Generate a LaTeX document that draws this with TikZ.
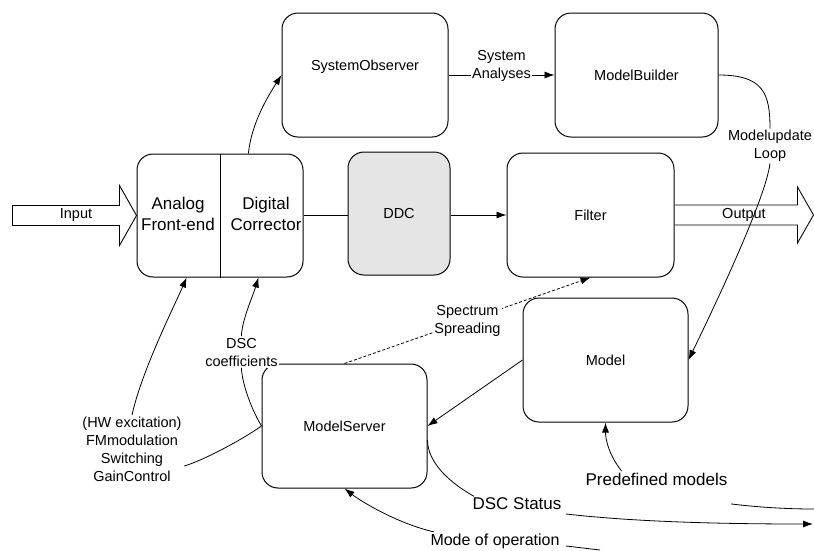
\documentclass[tikz,border=0pt]{standalone}
\usepackage{fontspec}
\setmainfont{Liberation Sans}
\usepackage{tikz}
\usetikzlibrary{calc}
\usetikzlibrary{arrows.meta}
\tikzset{>=stealth}
\tikzstyle{line} = [draw, line width=0.8pt, -{Latex[length=10pt,width=7pt]}]
\tikzstyle{plain} = [draw, line width=0.8pt]

\begin{document}
\begin{tikzpicture}[x=1pt, y=-1pt,
	block/.style={draw, line width=1pt, rounded corners=16pt,
	minimum width=166pt, minimum height=124pt, inner sep=0pt,
	font=\fontsize{14.5pt}{18pt}\selectfont},
	lbl/.style={align=center, inner sep=1.5pt,
	font=\fontsize{14.5pt}{18pt}\selectfont},
	big/.style={align=center, inner sep=1.5pt,
	font=\fontsize{17pt}{20pt}\selectfont},
	fat/.style={draw, line width=0.9pt}]
	\useasboundingbox (0,0) rectangle (814,550);
	%% Blocks
	\node [block, minimum height=123pt] (fe) at (220,215.5) {};
	\node [block] (so) at (365,75) {};
	\node [block, minimum width=163pt] (mb) at (636.5,75) {ModelBuilder};
	\node [block, minimum width=102pt, minimum height=123pt, fill=gray!20] (ddc) at (399,213.5) {DDC};
	\node [block, minimum width=167pt] (filter) at (590.5,215) {Filter};
	\node [block, minimum width=165pt] (model) at (605.5,360) {Model};
	\node [block, minimum width=165pt] (ms) at (344.5,426) {ModelServer};
	%%
	\draw [plain, line width=1pt] (fe.north) -- (fe.south);
	\node [lbl, font=\fontsize{17pt}{21.7pt}\selectfont] (afe) at (178,214) {Analog\\Front-end};
	\node [lbl, font=\fontsize{17pt}{21.7pt}\selectfont] (dc) at (266,214) {Digital\\Corrector};
	\node [lbl] (soText) at (365,67) {SystemObserver};
	%% Input and output
	\draw [fat] (fe.west) -- ++(-17,-30) -- ++(0,20) -- ++(-107,0)
	-- ++(0,20) -- ++(107,0) -- ++(0,20) -- cycle;
	\node [lbl] (in) at (76,215) {Input};
	\draw [fat] ($(filter.east)+(0,-10)$) -- ++(123,0) -- ++(0,-18)
	-- ++(16,28) -- ++(-16,28) -- ++(0,-18) -- ++(-123,0);
	\node [lbl] (out) at (744,215) {Output};
	%% Arrows
	\path [line] ($(fe.north west)!0.67!(fe.north east)$) .. controls +(3,-30) and +(-14,22) .. (so.west);
	\path [line] (so.east) -- node[lbl, fill=white, yshift=9pt] (sa) {System\\Analyses} (mb.west);
	\path [plain] (fe.east) -- (fe.east -| ddc.west);
	\path [line] (filter.west -| ddc.east) -- (filter.west);
	\path [line] (model.west) -- (ms.east);
	\path [line, dash pattern=on 3pt off 2pt] (ms.north) -- node[lbl, fill=white] (ss) {Spectrum\\Spreading} (filter.south);
	%% Model update loop
	\node [lbl] (mu) at (770,146) {Modelupdate\\Loop};
	\path [plain] (mb.east) .. controls +(45,0) and +(0,-35) .. (mu.north);
	\path [line] (mu.south) .. controls +(-5,40) and +(12,-25) .. (model.east);
	%% Correction paths
	\node [lbl, fill=white] (dsc) at (241.5,352) {DSC\\coefficients};
	\path [plain] (ms.west) .. controls +(-12,-20) and +(0,12) .. (dsc.south);
	\path [line] (dsc.north) .. controls +(0,-15) and +(-6,20) .. ($(fe.south west)!0.73!(fe.south east)$);
	\node [lbl] (hw) at (132,449) {(HW excitation)\\FMmodulation\\Switching\\GainControl};
	\path [plain] (ms.west) .. controls +(-20,14) and +(20,-6) .. ($(hw.east)+(1,17)$);
	\path [line] (hw.north) .. controls +(10,-45) and +(-12,28) .. ($(fe.south west)!0.3!(fe.south east)$);
	%% Bottom labels
	\node [big] (pm) at (656.5,479) {Predefined models};
	\path [line] ($(pm.north west)!0.26!(pm.north east)$) .. controls +(-12,-15) and +(0,18) .. (model.south);
	\coordinate (pmIn) at (814,509);
	\path [plain] ($(pm.south east)+(2,17)$) .. controls +(25,3) and +(-30,0) .. (pmIn);
	\node [big] (dscs) at (517,504) {DSC Status};
	\path [plain] ($(ms.east)+(0,14)$) .. controls +(0,22) and +(-25,-14) .. ($(dscs.north west)+(3,0)$);
	\coordinate (statusEnd) at (813,524);
	\path [line] ($(dscs.east)+(3,10)$) .. controls +(70,8) and +(-90,0) .. (statusEnd);
	\node [big, font=\fontsize{16pt}{20pt}\selectfont] (mo) at (495,541) {Mode of operation};
	\path [line] ($(mo.north west)+(5,0)$) .. controls +(-35,-8) and +(18,14) .. (ms.south);
	\coordinate (modeIn) at (600,550);
	\path [plain] ($(mo.east)+(5,5)$) -- (modeIn);
\end{tikzpicture}
\end{document}
